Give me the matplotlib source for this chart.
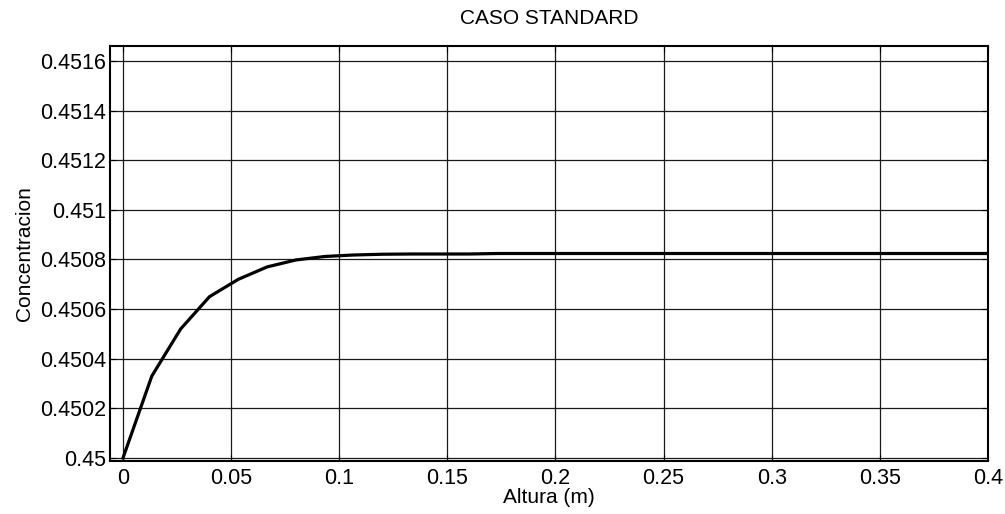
import matplotlib
matplotlib.use("Agg")
import matplotlib.pyplot as plt
import numpy as np

plt.rcParams['font.family'] = ['Liberation Sans', 'DejaVu Sans']

# altura (m) y concentracion
altura = [0.0, 0.01333, 0.02667, 0.04, 0.05333, 0.06667, 0.08, 0.09333,
          0.10667, 0.12, 0.13333, 0.14667, 0.16, 0.17333, 0.18667, 0.2,
          0.4]
concentracion = [0.45000, 0.45033, 0.45052, 0.45065, 0.45072, 0.45077,
                 0.450798, 0.450812, 0.450818, 0.450821, 0.450822,
                 0.450822, 0.450822, 0.450824, 0.450824, 0.450824,
                 0.450824]

xticks = [0, 0.05, 0.1, 0.15, 0.2, 0.25, 0.3, 0.35, 0.4]
xticklabels = ["0", "0.05", "0.1", "0.15", "0.2", "0.25", "0.3", "0.35", "0.4"]
yticks = [0.45, 0.4502, 0.4504, 0.4506, 0.4508, 0.451, 0.4512, 0.4514, 0.4516]
yticklabels = ["0.45", "0.4502", "0.4504", "0.4506", "0.4508", "0.451",
               "0.4512", "0.4514", "0.4516"]

fig = plt.figure(figsize=(10.05, 5.14), dpi=100)
ax = fig.add_axes([110/1005, 1 - 461/514, 878/1005, 415/514])

ax.plot(altura, concentracion, color="black", linewidth=2.3, zorder=3)

ax.set_xlim(-0.006, 0.4)
ax.set_ylim(0.449988, 0.45166)
ax.set_xticks(xticks)
ax.set_xticklabels(xticklabels)
ax.set_yticks(yticks)
ax.set_yticklabels(yticklabels)
ax.grid(True, color="0.1", linewidth=0.9, linestyle="-")
ax.tick_params(direction="in", length=4, labelsize=15.5, top=True, right=True)
ax.tick_params(axis="x", pad=5)
ax.tick_params(axis="y", pad=3)

for s in ax.spines.values():
    s.set_linewidth(1.5)

ax.set_title("CASO STANDARD", fontsize=15, pad=16)
ax.set_xlabel("Altura (m)", fontsize=15, labelpad=-1)
ax.set_ylabel("Concentracion", fontsize=15, labelpad=4)

fig.savefig("out.png", dpi=100)
